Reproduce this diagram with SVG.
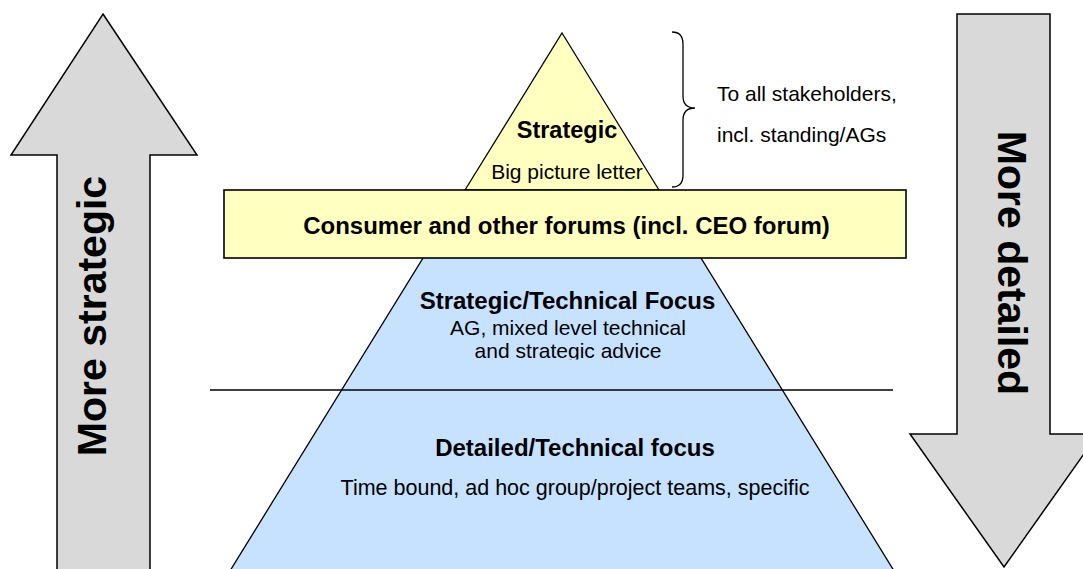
<svg xmlns="http://www.w3.org/2000/svg" width="1083" height="569" viewBox="0 0 1083 569">
  <style>
    .arrow { fill: #d9d9d9; stroke: #000; stroke-width: 1.5; stroke-linejoin: miter; }
    .edge { stroke: #000; stroke-width: 1.3; }
    .yellow { fill: #ffffc0; }
    .blue { fill: #c6e2ff; }
    text { font-family: "Liberation Sans", Arial, sans-serif; fill: #000; }
    .big { font-size: 41px; font-weight: bold; }
    .head { font-size: 24px; font-weight: bold; text-anchor: middle; }
    .body { font-size: 21px; text-anchor: middle; }
    .note { font-size: 21px; }
  </style>
  <defs>
    <clipPath id="midClip">
      <rect x="0" y="260" width="1083" height="99.5"/>
    </clipPath>
  </defs>
  <rect width="1083" height="569" fill="#fff"/>

  <!-- side arrows -->
  <g id="arrow-up">
    <path class="arrow" d="M103,14 L197,155 L150,155 L150,575 L57,575 L57,155 L11,155 Z"/>
    <text class="big" text-anchor="middle" transform="translate(106,316) rotate(-90)">More strategic</text>
  </g>
  <g id="arrow-down">
    <path class="arrow" d="M957,14 L1050,14 L1050,434 L1098,434 L1004,567 L910,434 L957,434 Z"/>
    <text class="big" text-anchor="middle" transform="translate(998,263) rotate(90)">More detailed</text>
  </g>

  <!-- pyramid: lower (blue) part -->
  <g id="tier-technical">
    <polygon class="blue edge" points="465,190 659,190 912,600 212,600"/>
    <text class="head" x="575" y="456">Detailed/Technical focus</text>
    <text class="body" x="575" y="495" style="font-size:21.5px">Time bound, ad hoc group/project teams, specific</text>
  </g>
  <g id="tier-mixed">
    <text class="head" x="567.5" y="309">Strategic/Technical Focus</text>
    <g clip-path="url(#midClip)">
      <text class="body" x="568" y="335">AG, mixed level technical</text>
      <text class="body" x="568" y="358">and strategic advice</text>
    </g>
  </g>

  <!-- pyramid: top (yellow) part -->
  <g id="tier-strategic">
    <polygon class="yellow edge" points="562,33 659,190 465,190"/>
    <text class="head" x="567" y="138" style="font-size:23.5px">Strategic</text>
    <text class="body" x="567" y="179">Big picture letter</text>
  </g>

  <!-- forums band -->
  <g id="forums">
    <rect class="yellow edge" x="224" y="190" width="682" height="68" style="stroke-width:1.6"/>
    <text class="head" x="566.5" y="234">Consumer and other forums (incl. CEO forum)</text>
  </g>

  <!-- audience note with brace -->
  <g id="audience">
    <path d="M672,32 Q683,32 683,44 L683,96 Q683,108 695,108 Q683,108 683,120 L683,175 Q683,187 672,187" fill="none" stroke="#000" stroke-width="1.3"/>
    <text class="note" x="717" y="101">To all stakeholders,</text>
    <text class="note" x="717" y="142">incl. standing/AGs</text>
  </g>

  <!-- connectors -->
  <g id="connectors">
    <line x1="210" y1="390" x2="893" y2="390" stroke="#000" stroke-width="1.3"/>
  </g>
</svg>
